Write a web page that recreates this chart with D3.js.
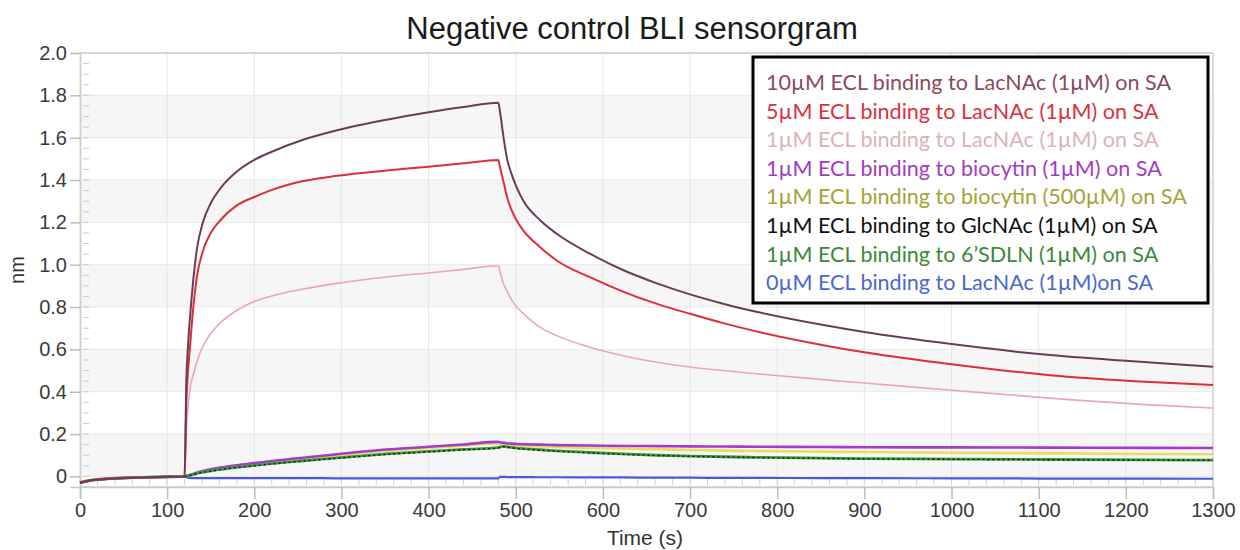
<!DOCTYPE html>
<html>
<head>
<meta charset="utf-8">
<script src="https://cdn.jsdelivr.net/npm/d3@7"></script>
<style>
  body { margin: 0; background: #fff; }
</style>
</head>
<body>
<div id="chart"></div>
<script>
// time points (s) shared by every sensor trace
var times = [0, 10, 30, 60, 100, 120, 122, 124, 126, 130, 134, 141, 150, 161, 180, 200, 218, 256, 295, 352, 400, 440, 480,
    482, 486, 490, 495, 501, 509, 528, 547, 585, 623, 662, 700, 738, 776, 853, 900, 1000, 1113, 1228, 1300];

// response (nm) per trace
var lac10 = [-0.03, -0.02, -0.012, -0.006, -0.002, 0.0,
    0.45, 0.62, 0.74, 0.93, 1.07, 1.20, 1.29, 1.36, 1.44, 1.495, 1.53, 1.59, 1.635, 1.685, 1.72, 1.745, 1.765,
    1.72, 1.60, 1.50, 1.43, 1.365, 1.30, 1.21, 1.146, 1.052, 0.975, 0.912, 0.86, 0.816, 0.778, 0.715, 0.682, 0.625, 0.573, 0.538, 0.518];
var lac5 = [-0.028, -0.019, -0.011, -0.006, -0.002, 0.0,
    0.35, 0.50, 0.60, 0.80, 0.94, 1.065, 1.15, 1.21, 1.28, 1.32, 1.35, 1.395, 1.42, 1.445, 1.463, 1.479, 1.495,
    1.46, 1.39, 1.32, 1.26, 1.209, 1.16, 1.083, 1.02, 0.941, 0.873, 0.815, 0.768, 0.724, 0.685, 0.62, 0.587, 0.53, 0.478, 0.446, 0.432];
var lac1 = [-0.026, -0.018, -0.01, -0.005, -0.002, 0.0,
    0.22, 0.33, 0.41, 0.48, 0.54, 0.615, 0.675, 0.725, 0.785, 0.826, 0.85, 0.885, 0.912, 0.942, 0.961, 0.978, 0.995,
    0.965, 0.91, 0.875, 0.835, 0.80, 0.768, 0.704, 0.665, 0.61, 0.57, 0.539, 0.517, 0.50, 0.485, 0.457, 0.441, 0.407, 0.37, 0.338, 0.323];
var bio1 = [-0.03, -0.021, -0.012, -0.006, -0.002, 0.0,
    0.002, 0.004, 0.007, 0.012, 0.017, 0.025, 0.034, 0.042, 0.053, 0.063, 0.072, 0.088, 0.105, 0.127, 0.14, 0.151, 0.163,
    0.161, 0.159, 0.157, 0.155, 0.153, 0.152, 0.15, 0.148, 0.146, 0.144, 0.143, 0.142, 0.141, 0.14, 0.139, 0.138, 0.137, 0.136, 0.135, 0.134];
var bio500 = [-0.027, -0.018, -0.01, -0.005, -0.001, 0.0,
    0.002, 0.004, 0.006, 0.011, 0.016, 0.024, 0.032, 0.04, 0.051, 0.06, 0.069, 0.085, 0.1, 0.121, 0.134, 0.145, 0.156,
    0.155, 0.153, 0.151, 0.149, 0.147, 0.145, 0.142, 0.139, 0.135, 0.131, 0.128, 0.125, 0.122, 0.12, 0.117, 0.115, 0.112, 0.109, 0.106, 0.105];
var glc1 = [-0.03, -0.02, -0.011, -0.006, -0.002, 0.0,
    0.001, 0.003, 0.005, 0.009, 0.013, 0.019, 0.025, 0.032, 0.042, 0.05, 0.058, 0.072, 0.086, 0.104, 0.116, 0.126, 0.134,
    0.138, 0.14, 0.138, 0.135, 0.132, 0.129, 0.124, 0.119, 0.111, 0.104, 0.099, 0.095, 0.092, 0.089, 0.085, 0.083, 0.081, 0.079, 0.077, 0.076];
var sdln1 = [-0.029, -0.02, -0.011, -0.006, -0.002, 0.0,
    0.001, 0.003, 0.005, 0.01, 0.014, 0.02, 0.026, 0.033, 0.043, 0.052, 0.06, 0.074, 0.088, 0.106, 0.118, 0.128, 0.136,
    0.14, 0.142, 0.14, 0.137, 0.134, 0.131, 0.126, 0.121, 0.113, 0.106, 0.1, 0.096, 0.093, 0.09, 0.086, 0.084, 0.082, 0.08, 0.078, 0.077];
var lac0 = [-0.03, -0.02, -0.012, -0.006, -0.002, 0.0,
    -0.004, -0.006, -0.007, -0.008, -0.008, -0.008, -0.008, -0.008, -0.008, -0.008, -0.008, -0.008, -0.009, -0.009, -0.009, -0.009, -0.009,
    -0.002, -0.002, -0.003, -0.003, -0.003, -0.003, -0.004, -0.004, -0.005, -0.005, -0.006, -0.006, -0.007, -0.007, -0.008, -0.008, -0.009, -0.01, -0.01, -0.011];

var legendLabels = [
    "10µM ECL binding to LacNAc (1µM) on SA",
    "5µM ECL binding to LacNAc (1µM) on SA",
    "1µM ECL binding to LacNAc (1µM) on SA",
    "1µM ECL binding to biocytin (1µM) on SA",
    "1µM ECL binding to biocytin (500µM) on SA",
    "1µM ECL binding to GlcNAc (1µM) on SA",
    "1µM ECL binding to 6’SDLN (1µM) on SA",
    "0µM ECL binding to LacNAc (1µM)on SA"
];
var seriesValues = [lac10, lac5, lac1, bio1, bio500, glc1, sdln1, lac0];

var xTicks = d3.range(0, 1301, 100);
var yTicks = [0, 0.2, 0.4, 0.6, 0.8, 1.0, 1.2, 1.4, 1.6, 1.8, 2.0];

// colours
var lineColors = ["#6c3a5c", "#dc2f3a", "#eda6ad", "#a43ad0", "#e6de5c", "#151515", "#3a9a3a", "#4a5ad8"];
var textColors = ["#8a4a5e", "#d9323e", "#dcb3b6", "#a23cc0", "#a3a338", "#111111", "#3a8a3a", "#4a68d0"];
var lineWidths = [2, 2, 1.6, 2.6, 2.6, 1.4, 2.8, 2.2];
var drawOrder = [7, 4, 3, 6, 5, 2, 1, 0];

var width = 1240, height = 550;
var margin = { top: 53, right: 27, bottom: 63, left: 80 };
var plotW = width - margin.left - margin.right;
var plotH = height - margin.top - margin.bottom;
var axisFont = "'Liberation Sans', Arial, sans-serif";

var svg = d3.select("#chart").append("svg")
    .attr("width", width)
    .attr("height", height)
    .style("font-family", axisFont);

var xScale = d3.scaleLinear().domain([0, 1300]).range([0, plotW]);
var yScale = d3.scaleLinear().domain([-0.05, 2.0]).range([plotH, 0]);

var g = svg.append("g").attr("transform", "translate(" + margin.left + "," + margin.top + ")");

// shaded bands
var bands = yTicks.filter(function (d, i) { return i % 2 === 0 && d < 2.0; });
g.selectAll("rect.band").data(bands).enter().append("rect")
    .attr("class", "band")
    .attr("x", 0)
    .attr("width", plotW)
    .attr("y", function (d) { return yScale(d + 0.2); })
    .attr("height", function (d) { return yScale(d) - yScale(d + 0.2); })
    .attr("fill", "#f6f6f6");

// grid lines
g.selectAll("line.gx").data(xTicks).enter().append("line")
    .attr("x1", function (d) { return xScale(d); })
    .attr("x2", function (d) { return xScale(d); })
    .attr("y1", 0).attr("y2", plotH)
    .attr("stroke", "#e6e6e6").attr("stroke-width", 1);
g.selectAll("line.gy").data(yTicks).enter().append("line")
    .attr("x1", 0).attr("x2", plotW)
    .attr("y1", function (d) { return yScale(d); })
    .attr("y2", function (d) { return yScale(d); })
    .attr("stroke", function (d) { return d === 2.0 ? "#c8c8c8" : "#e8e8e8"; })
    .attr("stroke-width", function (d) { return d === 2.0 ? 1.5 : 1; });

// frame (bottom and right)
g.append("line").attr("x1", 0).attr("x2", plotW).attr("y1", plotH).attr("y2", plotH)
    .attr("stroke", "#cfcfcf").attr("stroke-width", 1.5);
g.append("line").attr("x1", plotW).attr("x2", plotW).attr("y1", 0).attr("y2", plotH)
    .attr("stroke", "#d4d4d4").attr("stroke-width", 1.5);

// minor ticks inside
g.selectAll("line.my").data(d3.range(-0.05, 2.0, 0.05)).enter().append("line")
    .attr("x1", 3).attr("x2", 9)
    .attr("y1", function (d) { return yScale(d); })
    .attr("y2", function (d) { return yScale(d); })
    .attr("stroke", "#c4c8dc").attr("stroke-width", 1);
g.selectAll("line.mx").data(d3.range(20, 1300, 20)).enter().append("line")
    .attr("x1", function (d) { return xScale(d); })
    .attr("x2", function (d) { return xScale(d); })
    .attr("y1", plotH - 2).attr("y2", plotH - 8)
    .attr("stroke", "#d0d0d8").attr("stroke-width", 1);

// axes
var axisY = g.append("g")
    .call(d3.axisLeft(yScale).tickValues(yTicks).tickSize(10).tickPadding(3)
        .tickFormat(function (d) { return d === 0 ? "0" : d3.format(".1f")(d); }));
var axisX = g.append("g")
    .attr("transform", "translate(0," + plotH + ")")
    .call(d3.axisBottom(xScale).tickValues(xTicks).tickSize(12).tickPadding(4)
        .tickFormat(d3.format("d")));
[axisY, axisX].forEach(function (a) {
    a.select(".domain").attr("stroke", "#cccccc").attr("stroke-width", 1.5);
    a.selectAll(".tick line").attr("stroke", "#bdbdbd").attr("stroke-width", 1.5);
    a.selectAll(".tick text").attr("fill", "#3a3a3a").style("font-size", "20px").style("font-family", axisFont);
});

// traces
var line = d3.line()
    .x(function (d) { return xScale(d[0]); })
    .y(function (d) { return yScale(d[1]); })
    .curve(d3.curveMonotoneX);

drawOrder.forEach(function (k) {
    var pts = times.map(function (t, i) { return [t, seriesValues[k][i]]; });
    g.append("path")
        .datum(pts)
        .attr("fill", "none")
        .attr("stroke", lineColors[k])
        .attr("stroke-width", lineWidths[k])
        .attr("stroke-linejoin", "round")
        .attr("stroke-dasharray", k === 5 ? "2,3" : null)
        .attr("d", line);
});

// titles
svg.append("text")
    .attr("x", 632).attr("y", 39)
    .attr("text-anchor", "middle")
    .style("font-size", "31px")
    .attr("fill", "#1a1a1a")
    .text("Negative control BLI sensorgram");
svg.append("text")
    .attr("x", 645).attr("y", 545)
    .attr("text-anchor", "middle")
    .style("font-size", "21px")
    .attr("fill", "#333")
    .text("Time (s)");
svg.append("text")
    .attr("transform", "translate(24,270) rotate(-90)")
    .attr("text-anchor", "middle")
    .style("font-size", "20px")
    .attr("fill", "#333")
    .text("nm");

// legend
var legend = svg.append("g");
legend.append("rect")
    .attr("x", 753).attr("y", 57)
    .attr("width", 455).attr("height", 246)
    .attr("fill", "#fff")
    .attr("stroke", "#000").attr("stroke-width", 3);
var items = legend.selectAll("text.item").data(legendLabels).enter().append("text")
    .attr("class", "item")
    .attr("x", 766)
    .attr("y", function (d, i) { return 90 + i * 28.6; })
    .attr("fill", function (d, i) { return textColors[i]; })
    .style("font-family", "Lato, 'Open Sans', sans-serif")
    .style("font-size", "20px")
    .text(function (d) { return d; });
// fit the longest entry to the box width
var longest = d3.max(items.nodes(), function (n) { return n.getComputedTextLength(); });
items.style("font-size", (20 * 421 / longest) + "px");
</script>
</body>
</html>
